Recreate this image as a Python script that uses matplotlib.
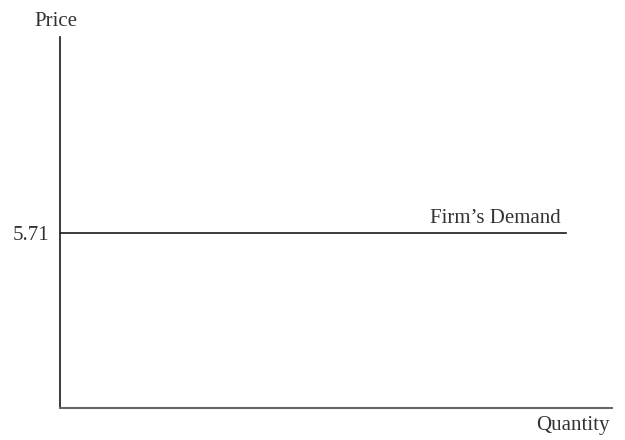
import matplotlib
matplotlib.use("Agg")
import matplotlib.pyplot as plt

plt.rcParams['font.family'] = ['Liberation Serif', 'DejaVu Serif']

price = 5.71
quantity = [0, 11.0]
demand = [price, price]
x_max = 12.0
y_max = 12.1
fs = 15

fig = plt.figure(figsize=(6.25, 4.4), dpi=100)
ax = fig.add_axes([0.096, 0.0727, 0.883, 0.843])

ax.plot(quantity, demand, color='#1a1a1a', lw=1.2)
ax.set_xlim(0, x_max)
ax.set_ylim(0, y_max)

for side in ['top', 'right']:
    ax.spines[side].set_visible(False)
ax.spines['left'].set_color('#1a1a1a')
ax.spines['bottom'].set_color('#666666')
ax.spines['left'].set_linewidth(1.2)
ax.spines['bottom'].set_linewidth(1.5)

ax.set_xticks([])
ax.set_yticks([price])
ax.set_yticklabels([f"{price:.2f}"])
ax.tick_params(axis='y', length=0, pad=8, labelsize=fs, colors='#333333')

ax.text(-0.09, y_max + 0.36, "Price", ha='center', va='baseline', fontsize=fs, color='#333333')
ax.text(x_max - 0.04, -0.72, "Quantity", ha='right', va='baseline', fontsize=fs, color='#333333')
ax.text(quantity[1] - 0.11, price + 0.33, "Firm\u2019s Demand", ha='right', va='baseline',
        fontsize=fs, color='#333333')

fig.savefig("out.png", dpi=100)
